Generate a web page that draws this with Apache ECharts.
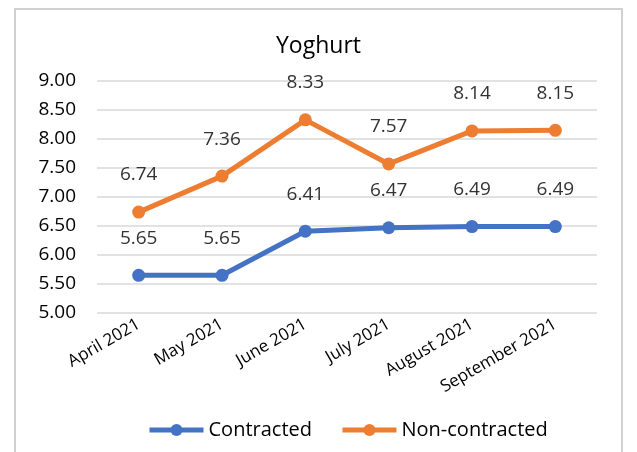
<!DOCTYPE html>
<html>
<head>
<meta charset="utf-8">
<script src="https://cdn.jsdelivr.net/npm/echarts@6/dist/echarts.min.js"></script>
<style>
  html, body { margin: 0; padding: 0; background: #fff; }
  #frame { position: absolute; left: 14px; top: 8px; width: 609px; height: 460px; border: 2px solid #d0d0d0; box-sizing: border-box; }
  #chart { position: absolute; left: 0; top: 0; width: 637px; height: 452px; }
</style>
</head>
<body>
<div id="frame"></div>
<div id="chart"></div>
<script>
var months = ['April 2021', 'May 2021', 'June 2021', 'July 2021', 'August 2021', 'September 2021']
var contracted = [5.65, 5.65, 6.41, 6.47, 6.49, 6.49]
var nonContracted = [6.74, 7.36, 8.33, 7.57, 8.14, 8.15]

var font = 'Open Sans'
var chart = echarts.init(document.getElementById('chart'))

function lineSeries (name, data, color) {
  return {
    name: name,
    type: 'line',
    data: data,
    symbol: 'circle',
    symbolSize: 13,
    lineStyle: { width: 5, color: color },
    itemStyle: { color: color },
    label: {
      show: true,
      position: 'top',
      distance: 21,
      color: '#333',
      fontSize: 19,
      fontFamily: font,
      formatter: function (p) { return p.value.toFixed(2) }
    },
    animation: false
  }
}

chart.setOption({
  title: {
    text: 'Yoghurt',
    left: 'center',
    top: 30,
    textStyle: { fontSize: 23, fontWeight: 'normal', color: '#000', fontFamily: font }
  },
  legend: {
    bottom: 7,
    left: 142,
    itemWidth: 54,
    itemHeight: 15,
    itemGap: 28,
    lineStyle: { width: 5 },
    textStyle: { fontSize: 20, color: '#000', fontFamily: font },
    data: ['Contracted', 'Non-contracted']
  },
  grid: { left: 97, right: 40, top: 81, bottom: 139 },
  xAxis: {
    type: 'category',
    data: months,
    boundaryGap: true,
    axisLine: { show: false },
    axisTick: { show: false },
    axisLabel: { rotate: 30, fontSize: 17, color: '#000', fontFamily: font, margin: 10 }
  },
  yAxis: {
    type: 'value',
    min: 5,
    max: 9,
    interval: 0.5,
    axisLine: { show: false },
    axisTick: { show: false },
    axisLabel: {
      fontSize: 19, color: '#000', fontFamily: font, margin: 21,
      formatter: function (v) { return v.toFixed(2) }
    },
    splitLine: { lineStyle: { color: '#d9d9d9', width: 1.5 } }
  },
  series: [
    lineSeries('Contracted', contracted, '#4472C4'),
    lineSeries('Non-contracted', nonContracted, '#ED7D31')
  ]
})
</script>
</body>
</html>
